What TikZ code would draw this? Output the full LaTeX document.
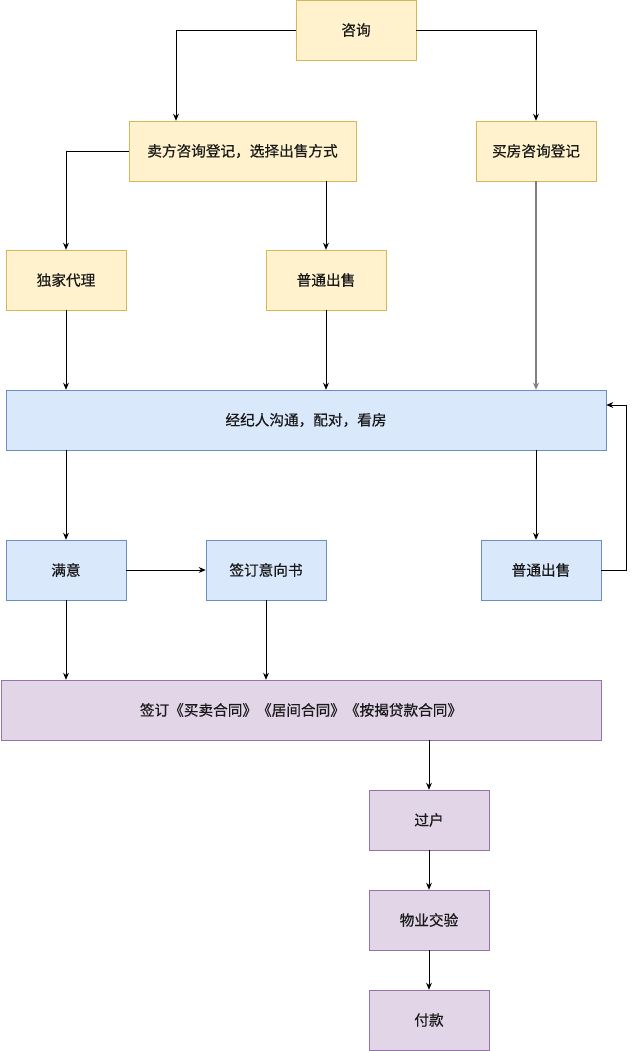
\documentclass[tikz,border=0pt]{standalone}
\usepackage{fontspec}
\setmainfont{Noto Sans CJK SC}[FakeBold=0.6]
\usetikzlibrary{arrows.meta}
\definecolor{ylwfill}{HTML}{FFF2CC}
\definecolor{ylwline}{HTML}{D6B656}
\definecolor{bluefill}{HTML}{DAE8FC}
\definecolor{blueline}{HTML}{6C8EBF}
\definecolor{purpfill}{HTML}{E1D5E7}
\definecolor{purpline}{HTML}{9673A6}
\begin{document}
\begin{tikzpicture}[
    x=0.03cm, y=-0.03cm,
    every node/.style={font=\fontsize{12.5}{14}\selectfont, text=black!90},
    ybox/.style={draw=ylwline, fill=ylwfill, minimum width=3.6cm, minimum height=1.8cm, inner sep=2pt},
    bbox/.style={draw=blueline, fill=bluefill, minimum width=3.6cm, minimum height=1.8cm, inner sep=2pt},
    pbox/.style={draw=purpline, fill=purpfill, minimum width=3.6cm, minimum height=1.8cm, inner sep=2pt},
    flow/.style={-{Stealth[length=6pt,width=5pt]}, line width=0.7pt}
]
    \useasboundingbox (0,0) rectangle (635,1051);
    % seller / buyer side
    \node[ybox] (zx) at (356,30) {咨询};
    \node[ybox, minimum width=6.81cm] (mf) at (242.5,151) {卖方咨询登记，选择出售方式};
    \node[ybox] (mh) at (536,151) {买房咨询登记};
    \node[ybox] (dj) at (66,280) {独家代理};
    \node[ybox] (pt) at (326,280) {普通出售};
    % agent matching
    \node[bbox, minimum width=18cm] (jj) at (306,420) {经纪人沟通，配对，看房};
    \node[bbox] (my) at (66,570) {满意};
    \node[bbox] (yx) at (266,570) {签订意向书};
    \node[bbox] (pt2) at (541,570) {普通出售};
    % contract and after
    \node[pbox, minimum width=18cm] (qd) at (301,710) {签订《买卖合同》《居间合同》《按揭贷款合同》};
    \node[pbox] (gh) at (429,820) {过户};
    \node[pbox] (wy) at (429,920) {物业交验};
    \node[pbox] (fk) at (429,1020) {付款};

    \draw[flow] (zx.west) -| ([xshift=-1.995cm]mf.north);
    \draw[flow] (zx.east) -| (mh.north);
    \draw[flow] (mf.west) -| (dj.north);
    \draw[flow] (pt.north |- mf.south) -- (pt.north);
    \draw[flow] (dj.south) -- (dj.south |- jj.north);
    \draw[flow] (pt.south) -- (pt.south |- jj.north);
    \draw[flow, draw=gray, line width=1pt] (mh.south) -- (mh.south |- jj.north);
    \draw[flow] (jj.south -| my.north) -- (my.north);
    \draw[flow] (mh.south |- jj.south) -- (mh.south |- pt2.north);
    \draw[flow] (pt2.east) -- ++(25,0) |- ([yshift=0.45cm]jj.east);
    \draw[flow] (my) -- (yx);
    \draw[flow] (my.south) -- (my.south |- qd.north);
    \draw[flow] (yx.south) -- (yx.south |- qd.north);
    \draw[flow] (gh.north |- qd.south) -- (gh.north);
    \draw[flow] (gh) -- (wy);
    \draw[flow] (wy) -- (fk);
\end{tikzpicture}
\end{document}
